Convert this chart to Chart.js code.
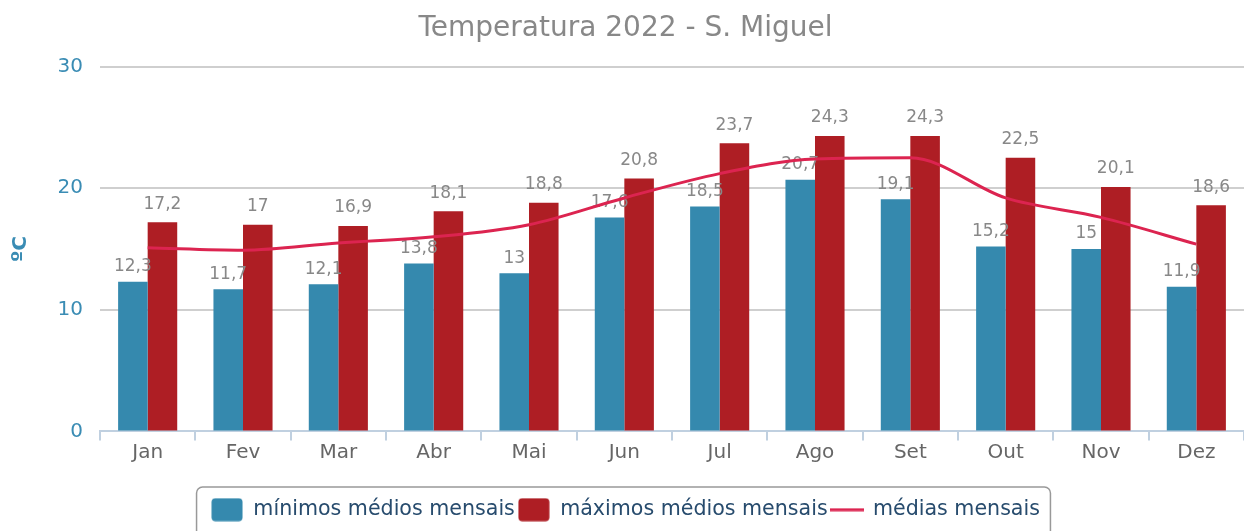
<!DOCTYPE html>
<html>
<head>
<meta charset="utf-8">
<title>Temperatura 2022 - S. Miguel</title>
<script src="https://cdn.jsdelivr.net/npm/chart.js@4.4.0/dist/chart.umd.min.js"></script>
<style>
  html, body { margin: 0; padding: 0; background: #fff; }
  #wrap { width: 1244px; height: 531px; }
</style>
</head>
<body>
<div id="wrap"><canvas id="tempChart"></canvas></div>
<script>
const meses = ['Jan', 'Fev', 'Mar', 'Abr', 'Mai', 'Jun', 'Jul', 'Ago', 'Set', 'Out', 'Nov', 'Dez'];
const minimos = [12.3, 11.7, 12.1, 13.8, 13, 17.6, 18.5, 20.7, 19.1, 15.2, 15, 11.9];
const maximos = [17.2, 17, 16.9, 18.1, 18.8, 20.8, 23.7, 24.3, 24.3, 22.5, 20.1, 18.6];
const medias = [15.1, 14.9, 15.5, 16.0, 17.0, 19.2, 21.2, 22.4, 22.5, 19.2, 17.6, 15.4];
const yTicks = [0, 10, 20, 30];

const AZUL = '#3589ae';
const VERMELHO = '#ae1e24';
const LINHA = '#dc2450';
const FONTE = '"DejaVu Sans", sans-serif';

// simbolos da legenda (caixa arredondada e traco)
function caixa(cor) {
    const c = document.createElement('canvas');
    c.width = 32; c.height = 24;
    const g = c.getContext('2d');
    g.fillStyle = cor;
    g.beginPath();
    g.roundRect(0.5, 0.5, 31, 23, 4);
    g.fill();
    return c;
}
function traco(cor) {
    const c = document.createElement('canvas');
    c.width = 34; c.height = 4;
    const g = c.getContext('2d');
    g.fillStyle = cor;
    g.fillRect(0, 0.5, 34, 3);
    return c;
}
const simbolos = [caixa(AZUL), caixa(VERMELHO), traco(LINHA)];

function fmt(v) {
    return String(v).replace('.', ',');
}

// rotulos de valor por cima das barras
const rotulos = {
    id: 'rotulos',
    afterDatasetDraw(chart, args) {
        const ds = chart.data.datasets[args.index];
        if (ds.type === 'line') return;
        const ctx = chart.ctx;
        ctx.save();
        ctx.font = '17px ' + FONTE;
        ctx.fillStyle = '#888888';
        ctx.textAlign = 'center';
        ctx.textBaseline = 'middle';
        args.meta.data.forEach((bar, j) => {
            ctx.fillText(fmt(ds.data[j]), bar.x, bar.y - ds.labelGap);
        });
        ctx.restore();
    }
};

// moldura arredondada a volta da legenda
const moldura = {
    id: 'moldura',
    afterDraw(chart) {
        const boxes = chart.legend.legendHitBoxes;
        if (!boxes || !boxes.length) return;
        const esq = Math.min(...boxes.map(b => b.left)) - 15;
        const dir = Math.max(...boxes.map(b => b.left + b.width)) + 10;
        const topo = boxes[0].top - 13;
        const ctx = chart.ctx;
        ctx.save();
        ctx.strokeStyle = '#999999';
        ctx.lineWidth = 1.5;
        ctx.beginPath();
        ctx.roundRect(esq + 0.5, topo + 0.5, dir - esq, 70, 6);
        ctx.stroke();
        ctx.restore();
    }
};

(function() {
    const ctx = document.getElementById('tempChart');

    new Chart(ctx, {
        type: 'bar',
        data: {
            labels: meses,
            datasets: [
                {
                    label: 'mínimos médios mensais',
                    data: minimos,
                    backgroundColor: AZUL,
                    borderWidth: 0,
                    labelGap: 15,
                    categoryPercentage: 0.62,
                    barPercentage: 1.0,
                    order: 1
                },
                {
                    label: 'máximos médios mensais',
                    data: maximos,
                    backgroundColor: VERMELHO,
                    borderWidth: 0,
                    labelGap: 18,
                    categoryPercentage: 0.62,
                    barPercentage: 1.0,
                    order: 1
                },
                {
                    type: 'line',
                    label: 'médias mensais',
                    data: medias,
                    borderColor: LINHA,
                    backgroundColor: LINHA,
                    borderWidth: 3,
                    pointRadius: 0,
                    cubicInterpolationMode: 'monotone',
                    order: 0
                }
            ]
        },
        options: {
            responsive: true,
            maintainAspectRatio: false,
            animation: false,
            layout: {
                padding: { left: 0, right: -7, top: 0, bottom: 1 }
            },
            plugins: {
                title: {
                    display: true,
                    text: 'Temperatura 2022 - S. Miguel',
                    color: '#888888',
                    font: { family: FONTE, size: 28, weight: 'normal' },
                    padding: { top: 12, bottom: 21 }
                },
                legend: {
                    position: 'bottom',
                    labels: {
                        usePointStyle: true,
                        pointStyleWidth: 32,
                        boxHeight: 20,
                        padding: 3,
                        color: '#274b6d',
                        font: { family: FONTE, size: 20.6 },
                        generateLabels(chart) {
                            const itens = Chart.defaults.plugins.legend.labels.generateLabels(chart);
                            itens.forEach(it => { it.pointStyle = simbolos[it.datasetIndex]; });
                            return itens;
                        },
                        sort: (a, b) => a.datasetIndex - b.datasetIndex
                    }
                },
                tooltip: { enabled: false }
            },
            scales: {
                x: {
                    grid: {
                        offset: true,
                        drawOnChartArea: false,
                        drawTicks: true,
                        tickLength: 9,
                        color: '#c0d0e0',
                        lineWidth: 2
                    },
                    border: { color: '#c0d0e0', width: 2 },
                    ticks: {
                        color: '#666666',
                        padding: 0,
                        font: { family: FONTE, size: 20 }
                    },
                    afterFit(scale) { scale.height = 65; }
                },
                y: {
                    min: 0,
                    max: 30,
                    afterBuildTicks(scale) {
                        scale.ticks = yTicks.map(v => ({ value: v }));
                    },
                    grid: {
                        color: '#cfcfcf',
                        lineWidth: 2,
                        drawTicks: false
                    },
                    border: { display: false },
                    ticks: {
                        color: '#3a8cb4',
                        padding: 17,
                        font: { family: FONTE, size: 20 }
                    },
                    title: {
                        display: true,
                        text: 'ºC',
                        color: '#3a8cb4',
                        font: { family: FONTE, size: 20, weight: 'bold' },
                        padding: { top: 9, bottom: 0 }
                    },
                    afterFit(scale) { scale.width = 100; }
                }
            }
        },
        plugins: [rotulos, moldura]
    });
})();
</script>
</body>
</html>
